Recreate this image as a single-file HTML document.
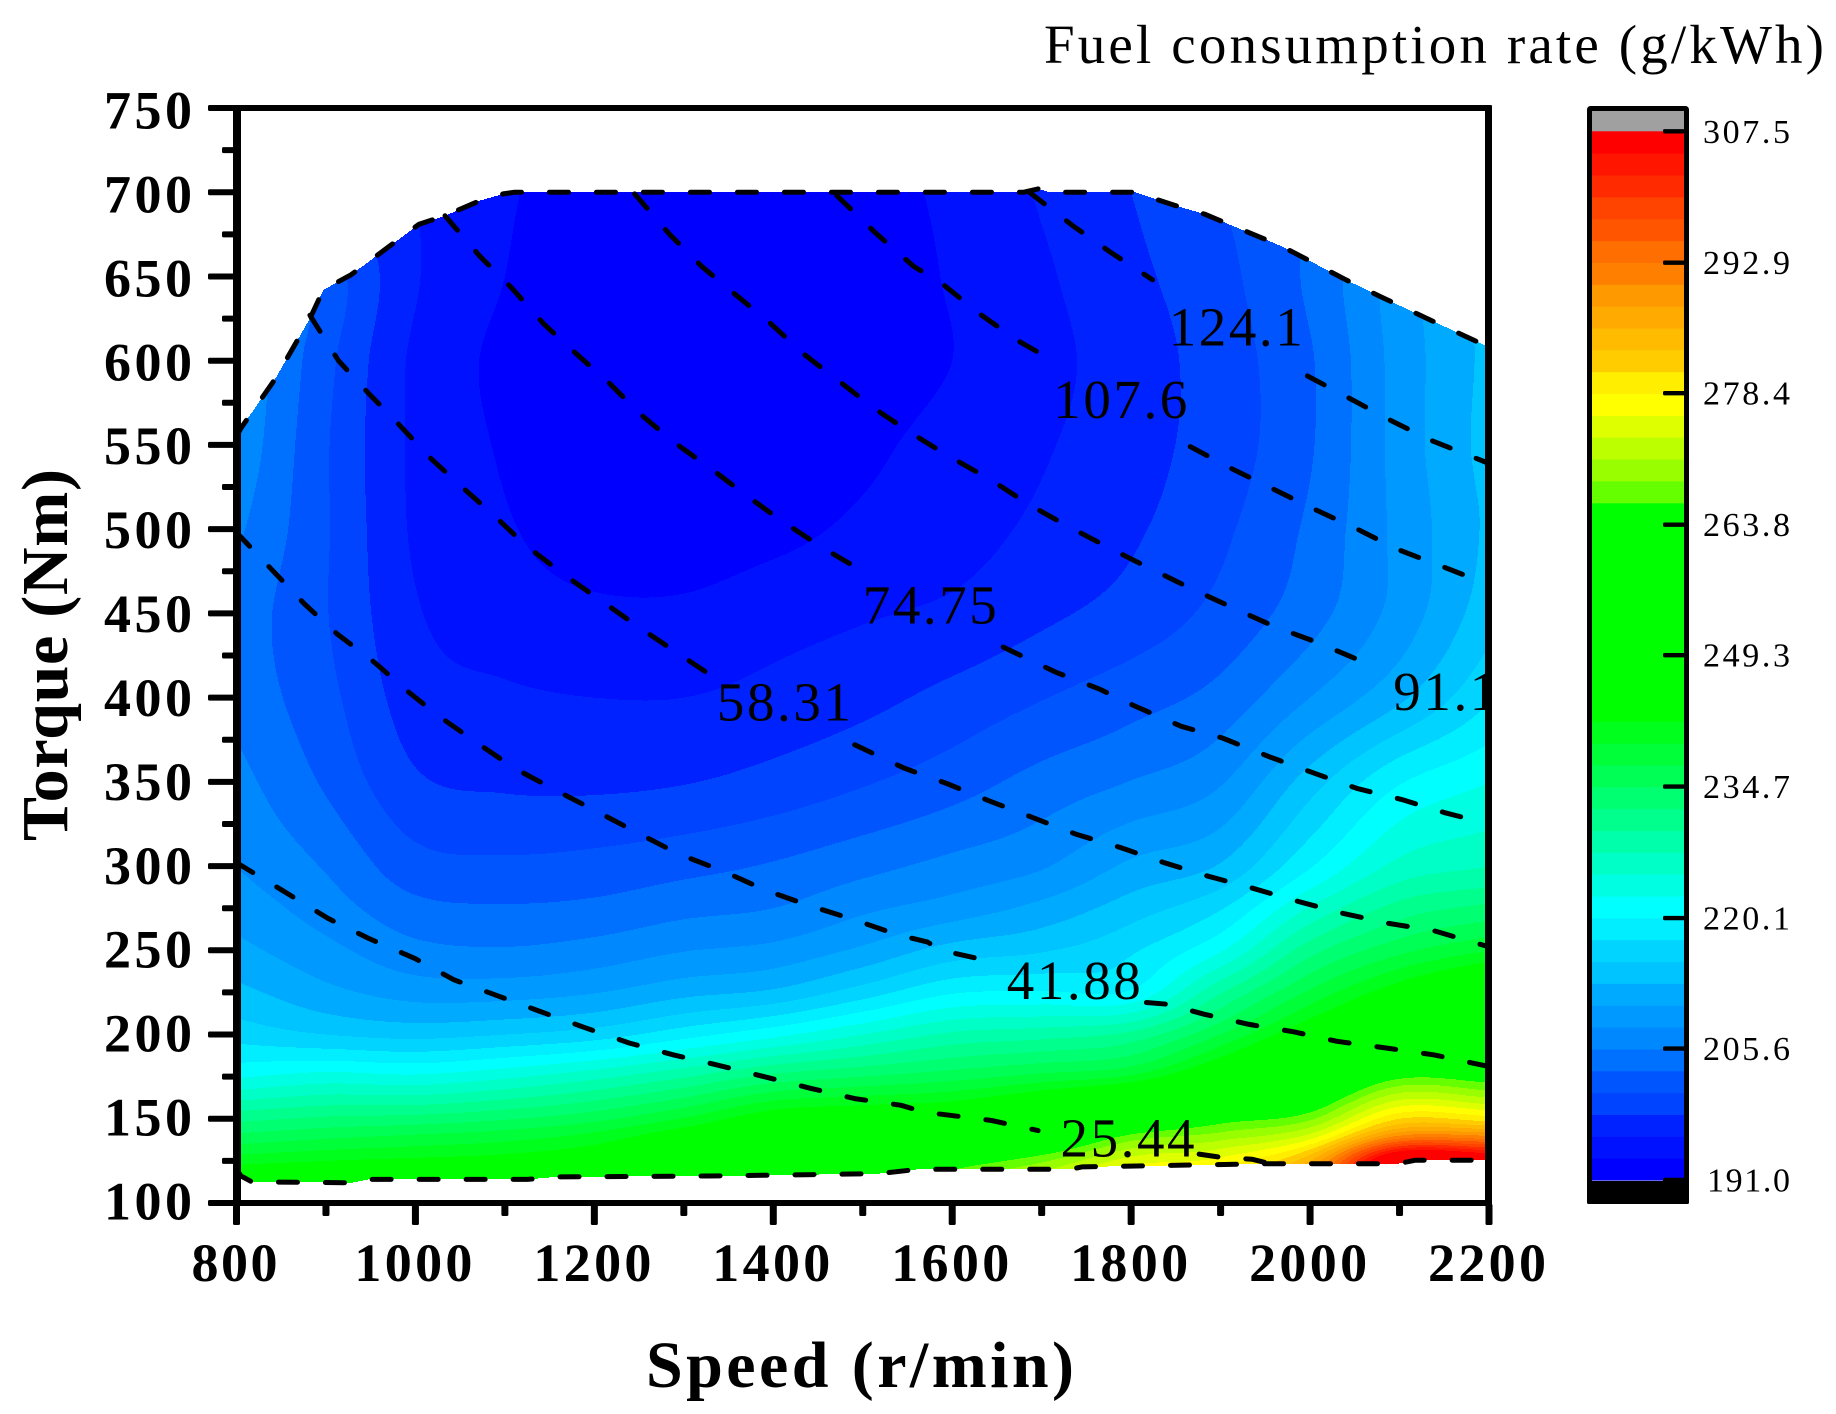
<!DOCTYPE html>
<html lang="en">
<head>
<meta charset="utf-8">
<title>Fuel consumption rate contour map</title>
<style>
html,body{margin:0;padding:0;background:#fff;}
svg{display:block;font-family:"Liberation Serif",serif;}
</style>
</head>
<body>
<svg id="chart" xmlns="http://www.w3.org/2000/svg" width="1836" height="1414" viewBox="0 0 1836 1414">
<rect x="0" y="0" width="1836" height="1414" fill="#fff"/>
<defs><clipPath id="plot-clip"><rect x="237" y="108" width="1252" height="1095"/></clipPath></defs>
<g id="field" shape-rendering="crispEdges"></g>
<g id="isolines" clip-path="url(#plot-clip)" fill="none" stroke="#000" stroke-width="5" stroke-dasharray="19 28" stroke-linecap="round" stroke-linejoin="round"></g>
<g id="isolabels" clip-path="url(#plot-clip)" font-size="55" fill="#000"></g>
<g id="axes"></g>
<g id="colorbar"></g>
<text x="646" y="1387" font-size="66" font-weight="bold" textLength="428" lengthAdjust="spacing">Speed (r/min)</text>
<text transform="translate(67,841) rotate(-90)" x="0" y="0" font-size="66" font-weight="bold" textLength="372" lengthAdjust="spacing">Torque (Nm)</text>
<text x="1044" y="63" font-size="55" textLength="780" lengthAdjust="spacing">Fuel consumption rate (g/kWh)</text>
</svg>
<script>
/* ---------- data: axis ticks ---------- */
var xTicks = [800, 1000, 1200, 1400, 1600, 1800, 2000, 2200];
var xMinorTicks = [900, 1100, 1300, 1500, 1700, 1900, 2100];
var yTicks = [100, 150, 200, 250, 300, 350, 400, 450, 500, 550, 600, 650, 700, 750];
var yMinorTicks = [125, 175, 225, 275, 325, 375, 425, 475, 525, 575, 625, 675, 725];

/* ---------- data: colour scale ---------- */
var colorbarTicks = [191.0, 205.6, 220.1, 234.7, 249.3, 263.8, 278.4, 292.9, 307.5];
var colorbarLabels = ["191.0", "205.6", "220.1", "234.7", "249.3", "263.8", "278.4", "292.9", "307.5"];
var bandColors = ["#0000ff","#0011ff","#0022ff","#0044ff","#0055ff","#0070ff","#0088ff","#0099ff","#00aaff","#00c4ff","#00d4ff","#00eeff",
 "#00ffff","#00ffe2","#00ffc6","#00ffaa","#00ff8d","#00ff71","#00ff55","#00ff38","#00ff1c","#00ff00","#00ff00","#00ff00","#00ff00","#00ff00","#00ff00","#00ff00","#00ff00","#00ff00","#00ff00",
 "#66ff00","#99ff00","#bbff00","#ddff00","#ffff00","#ffee00","#ffcc00","#ffbb00","#ffaa00","#ff9900","#ff8000","#ff6e00","#ff5500","#ff4400","#ff2a00","#ff1500","#ff0000"];

/* ---------- data: measured grid, fuel rate in colour-band levels (1 level = 2.427 g/kWh above 191) ---------- */
var gridSpeeds = [800, 900, 1000, 1100, 1200, 1300, 1400, 1500, 1600, 1700, 1800, 1900, 2000, 2100, 2200];
var gridTorques = [100, 125, 140, 150, 175, 200, 225, 250, 275, 300, 350, 400, 450, 500, 550, 600, 650, 700];
var rate100 = [25, 25, 26, 26, 27, 28, 29, 31, 34, 36, 39, 40, 44, 55, 54];
var rate125 = [20.6, 21, 21.3, 21.6, 22.3, 23.5, 25, 28, 30, 31.8, 34.5, 35.4, 39, 50, 49];
var rate140 = [18.2, 18.7, 19.1, 19.5, 20.3, 21.8, 23, 24.5, 25.8, 27.7, 31.2, 32.4, 34.3, 41, 41];
var rate150 = [16.7, 17.2, 17.4, 17.9, 18.7, 20.1, 21.9, 22.5, 23, 24.9, 27.9, 30.3, 31.8, 37, 36.5];
var rate175 = [12.9, 13.4, 13.2, 13.8, 14.7, 15.9, 17.3, 18, 18.6, 19.35, 20.2, 23.2, 26.8, 30.7, 30.3];
var rate200 = [10.6, 10, 9.7, 10, 10.5, 11.6, 12.7, 14, 15.2, 15.6, 16.3, 19, 22.3, 25, 27];
var rate225 = [9.3, 8.3, 7.6, 7.6, 7.95, 8.7, 9.2, 10.5, 11.9, 12.1, 12.15, 15.9, 19.2, 21.8, 24];
var rate250 = [8.3, 7.3, 6.3, 6.1, 6.4, 6.95, 7.3, 8.2, 9.4, 9.9, 10.85, 12.9, 16.6, 18.7, 20];
var rate275 = [7.6, 6.5, 5.3, 5.1, 5.25, 5.7, 6, 6.8, 7.45, 8.3, 9.5, 10.9, 14.1, 16.4, 17.3];
var rate300 = [7, 5.9, 4.4, 4.2, 4.35, 4.7, 5.1, 5.7, 6.3, 6.9, 8.2, 9.1, 11.9, 14.3, 15];
var rate350 = [6.35, 4.85, 3.15, 2.85, 2.8, 2.95, 3.35, 3.9, 4.55, 5.36, 6.03, 6.9, 9.5, 11.9, 13];
var rate400 = [5.7, 4.3, 2.5, 2.15, 2, 2, 2.3, 2.7, 3.3, 3.95, 4.6, 5.35, 7, 8.8, 10.9];
var rate450 = [5.6, 4.05, 2.1, 1.5, 1.2, 1.2, 1.6, 1.9, 2.2, 2.8, 3.4, 4.3, 5.6, 7.4, 9.6];
var rate500 = [6.2, 4.1, 1.85, 1.1, 0.5, 0.4, 0.7, 1.2, 1.6, 2.2, 2.85, 3.8, 5.2, 7.3, 9.2];
var rate550 = [6.8, 4.1, 1.8, 0.9, 0.4, 0.2, 0.2, 0.75, 1.4, 1.9, 2.6, 3.5, 4.9, 7.4, 9.4];
var rate600 = [7, 4.3, 1.8, 0.8, 0.4, 0.2, 0.1, 0.3, 1, 1.7, 2.5, 3.5, 4.9, 7.4, 9.3];
var rate650 = [7, 4.6, 2.1, 1, 0.6, 0.3, 0.2, 0.4, 1.1, 1.85, 2.75, 3.7, 5.2, 7.5, 9.3];
var rate700 = [4, 3, 2, 1.1, 0.7, 0.5, 0.5, 0.7, 1.2, 2.1, 3, 4, 5, 7, 9];
var rateRows = [rate100, rate125, rate140, rate150, rate175, rate200, rate225, rate250, rate275, rate300, rate350, rate400, rate450, rate500, rate550, rate600, rate650, rate700];

/* ---------- data: operating envelope ---------- */
var topSpeeds = [800, 805, 843, 882, 897, 928, 961, 1004, 1033, 1072, 1098, 1111, 1680, 1696, 1709, 1804, 1850, 1882, 1909, 1968, 2040, 2079, 2131, 2200];
var topTorques = [555, 560, 589, 625, 642, 651, 664, 681, 686, 695, 699, 700, 700, 702, 700, 700, 692, 687, 681, 668, 648, 638, 625, 608];
var bottomSpeeds = [800, 805, 817, 928, 948, 1125, 1157, 1327, 1517, 1562, 1732, 1745, 1954, 2098, 2118, 2200];
var bottomTorques = [120, 116, 112.6, 112, 114, 114, 115.5, 116, 117.4, 120, 120, 121.4, 123.3, 123.3, 125.4, 125.4];

/* ---------- data: dashed contour lines (null = gap under the label) ---------- */
var line25Speeds = [800, 850, 902, 948, 1000, 1043, 1092, 1138, 1190, 1239, 1288, 1337, 1390, 1442, 1491, 1543, 1568, 1644, 1696, null, 1876, 1902, 1935, 1954];
var line25Torques = [302, 286, 269, 257, 245, 232.5, 223, 214, 204, 195, 188, 182, 175, 168, 162, 158, 154, 149, 143, null, 129, 127, 126, 123.5];
var line41Speeds = [800, 843, 876, 912, 954, 993, 1026, 1072, 1111, 1157, 1206, 1249, 1295, 1344, 1390, 1439, 1488, 1540, 1572, 1588, 1634, null, 1817, 1840, 1882, 1932, 1981, 2030, 2085, 2138, 2200];
var line41Torques = [498, 474, 455.6, 438, 421, 403, 389, 372, 358, 345, 331.5, 319.5, 307, 297, 286, 276.7, 268.6, 259, 255, 250, 244.5, null, 219, 218, 212, 206, 201.7, 196, 192, 188, 181];
var line58Speeds = [882, 914, 947, 980, 1016, 1052, 1088, 1124, 1166, 1209, 1252, 1294, 1334, null, 1491, 1547, 1594, 1640, 1689, 1738, 1788, 1837, 1886, 1935, 1987, 2036, 2088, 2138, 2200];
var line58Torques = [627, 600, 581, 563, 542.6, 525, 508, 490, 473, 457, 441, 426, 412, null, 372, 358, 349, 339, 329, 319, 311, 302, 294, 287, 279, 272, 266, 261.7, 252];
var line74Speeds = [1033, 1072, 1108, 1144, 1180, 1216, 1252, 1288, 1330, 1370, 1409, 1455, 1498, null, 1657, 1716, 1765, 1804, 1856, 1902, 1954, 2000, 2053, 2102, 2151, 2200];
var line74Torques = [686, 662, 643, 621.5, 604, 587, 568, 552, 536, 520, 505, 489, 475.6, null, 430, 415, 405, 395, 383, 376, 365, 356, 346, 339.6, 331.6, 325];
var line91Speeds = [1245, 1284, 1320, 1356, 1395, 1434, 1473, 1512, 1554, 1594, 1644, 1686, 1732, 1775, 1820, 1866, 1915, 1961, 2007, 2056, 2070];
var line91Torques = [699, 675, 656, 640, 623, 604, 588, 572, 557, 544, 529, 514.5, 501, 489, 477, 465, 453, 442, 433, 422, 418];
var line107Speeds = [1471, 1514, 1557, 1588, 1630, 1673, 1716, null, 1866, 1912, 1958, 2004, 2053, 2098, 2144, 2200];
var line107Torques = [698, 676, 656, 646, 628, 612, 599, null, 549, 536, 524, 512, 500, 488, 478.6, 467];
var line124Speeds = [1686, 1735, 1778, 1824, null, 1997, 2043, 2092, 2134, 2200];
var line124Torques = [700, 680, 664, 648, null, 591, 578, 564, 553, 539];

/* ---------- data: contour labels ---------- */
var isoLabelTexts = ["124.1", "107.6", "74.75", "58.31", "91.1", "41.88", "25.44"];
var isoLabelSpeeds = [1842, 1713, 1500, 1337, 2093, 1661, 1721];
var isoLabelTorques = [609, 566, 444, 386.4, 392.7, 221, 127.6];

/* ---------- axis functions ---------- */
var plotLeft = 236.5, plotRight = 1489, plotTop = 108, plotBottom = 1203;
function xScale(s){ return plotLeft + (s - 800) * (plotRight - plotLeft) / 1400; }
function yScale(t){ return plotBottom - (t - 100) * (plotBottom - plotTop) / 650; }
function xInvert(x){ return 800 + (x - plotLeft) * 1400 / (plotRight - plotLeft); }
function yInvert(y){ return 100 + (plotBottom - y) * 650 / (plotBottom - plotTop); }
var barBottomY = 1180, barTopY = 131.3;
function barScale(v){ return barBottomY - (v - 191) * (barBottomY - barTopY) / (307.5 - 191); }

var NS = "http://www.w3.org/2000/svg";
function make(tag, attrs, parent){
  var n = document.createElementNS(NS, tag);
  for (var k in attrs) n.setAttribute(k, attrs[k]);
  parent.appendChild(n);
  return n;
}
function lerpAt(xs, ys, x){
  if (x <= xs[0]) return ys[0];
  for (var i = 1; i < xs.length; i++) if (x <= xs[i]) {
    return ys[i-1] + (ys[i] - ys[i-1]) * (x - xs[i-1]) / (xs[i] - xs[i-1]);
  }
  return ys[ys.length - 1];
}
function smoothAt(xs, ys, x){
  var n = xs.length, i = 0;
  while (i < n - 2 && x > xs[i+1]) i++;
  var h = xs[i+1] - xs[i], u = Math.max(0, Math.min(1, (x - xs[i]) / h));
  var m0 = i > 0 ? (ys[i+1] - ys[i-1]) / (xs[i+1] - xs[i-1]) : (ys[i+1] - ys[i]) / h;
  var m1 = i < n - 2 ? (ys[i+2] - ys[i]) / (xs[i+2] - xs[i]) : (ys[i+1] - ys[i]) / h;
  var u2 = u * u, u3 = u2 * u;
  return (2*u3 - 3*u2 + 1) * ys[i] + (u3 - 2*u2 + u) * h * m0 + (-2*u3 + 3*u2) * ys[i+1] + (u3 - u2) * h * m1;
}

/* ---------- filled contour bands ---------- */
(function(){
  var field = document.getElementById("field");
  var pieces = bandColors.map(function(){ return []; });
  var x0 = 237, x1 = 1486;
  var tops = [], bots = [], cols = [];
  for (var x = x0; x < x1; x++) {
    var s = xInvert(x + 0.5);
    tops.push(yScale(lerpAt(topSpeeds, topTorques, s)));
    bots.push(yScale(lerpAt(bottomSpeeds, bottomTorques, s)));
    cols.push(rateRows.map(function(row){ return smoothAt(gridSpeeds, row, s); }));
  }
  for (var y = 150; y < 1203; y++) {
    var t = yInvert(y + 0.5);
    var runBand = -1, runStart = 0;
    for (var x = x0; x <= x1; x++) {
      var band = -1;
      if (x < x1) {
        var i = x - x0;
        if (y + 0.5 >= tops[i] && y + 0.5 <= bots[i]) {
          band = Math.floor(smoothAt(gridTorques, cols[i], t));
          band = Math.max(0, Math.min(bandColors.length - 1, band));
        }
      }
      if (band !== runBand) {
        if (runBand >= 0) pieces[runBand].push("M" + runStart + " " + y + "h" + (x - runStart) + "v1h" + (runStart - x) + "z");
        runBand = band; runStart = x;
      }
    }
  }
  pieces.forEach(function(p, idx){
    if (!p.length) return;
    var path = make("path", {d: p.join(""), fill: bandColors[idx]}, field);
    
    
  });
})();

/* ---------- dashed contour lines ---------- */
(function(){
  var group = document.getElementById("isolines");
  function addLine(speeds, torques, name){
    var d = "", pen = false;
    for (var i = 0; i < speeds.length; i++) {
      if (speeds[i] === null) { pen = false; continue; }
      d += (pen ? "L" : "M") + xScale(speeds[i]).toFixed(1) + " " + yScale(torques[i]).toFixed(1);
      pen = true;
    }
    var p = make("path", {d: d}, group);
    
    
  }
  addLine(topSpeeds, topTorques, 'envelope-top-line');
  addLine(bottomSpeeds, bottomTorques, 'envelope-bottom-line');
  addLine(line25Speeds, line25Torques, 'contour-line-25-44');
  addLine(line41Speeds, line41Torques, 'contour-line-41-88');
  addLine(line58Speeds, line58Torques, 'contour-line-58-31');
  addLine(line74Speeds, line74Torques, 'contour-line-74-75');
  addLine(line91Speeds, line91Torques, 'contour-line-91-1');
  addLine(line107Speeds, line107Torques, 'contour-line-107-6');
  addLine(line124Speeds, line124Torques, 'contour-line-124-1');
})();

/* ---------- contour labels ---------- */
(function(){
  var group = document.getElementById("isolabels");
  isoLabelTexts.forEach(function(txt, i){
    var len = txt.length === 5 ? 134 : 104;
    var n = make("text", {x: xScale(isoLabelSpeeds[i]).toFixed(1), y: yScale(isoLabelTorques[i]).toFixed(1), textLength: len, lengthAdjust: "spacing"}, group);
    n.textContent = txt;
    
    
  });
})();

/* ---------- axes ---------- */
(function(){
  var g = document.getElementById("axes");
  function bar(x, y, w, h, name){
    var r = make("rect", {x: x, y: y, width: w, height: h, rx: 1.5, fill: "#000"}, g);
    
    
  }
  bar(233, 105, 8, 1101, 'y-axis-line');
  bar(233, 105, 1259, 6, 'top-axis-line');
  bar(233, 1200, 1259, 6, 'x-axis-line');
  bar(1485, 105, 7, 1101, 'right-axis-line');
  yTicks.forEach(function(v){
    bar(208, yScale(v) - 3, 27, 6, 'y-major-tick');
    var baseline = 128.5 + (750 - v) * (1219.5 - 128.5) / 650;
    var n = make("text", {x: 104, y: baseline.toFixed(1), "font-size": 54, "font-weight": "bold", textLength: 88, lengthAdjust: "spacing"}, g);
    n.textContent = String(v);
    
    
  });
  yMinorTicks.forEach(function(v){
    bar(222, yScale(v) - 3, 13, 6, 'y-minor-tick');
  });
  xTicks.forEach(function(v){
    bar(xScale(v) - 3.5, 1204, 7, 21, 'x-major-tick');
    var label = String(v), len = label.length === 4 ? 118 : 86;
    var n = make("text", {x: (xScale(v) - 2 - len / 2).toFixed(1), y: 1281, "font-size": 54, "font-weight": "bold", textLength: len, lengthAdjust: "spacing"}, g);
    n.textContent = label;
    
    
  });
  xMinorTicks.forEach(function(v){
    bar(xScale(v) - 3.5, 1204, 7, 12, 'x-minor-tick');
  });
})();

/* ---------- colour bar ---------- */
(function(){
  var g = document.getElementById("colorbar");
  var step = (307.5 - 191) / bandColors.length;
  var over = make("rect", {x: 1589, y: 108, width: 98, height: 24, fill: "#a0a0a0"}, g);
  
  
  bandColors.forEach(function(c, i){
    var yTop = barScale(191 + (i + 1) * step), yBot = barScale(191 + i * step);
    var r = make("rect", {x: 1589, y: yTop.toFixed(1), width: 98, height: (yBot - yTop + 0.6).toFixed(1), fill: c}, g);
    
    
  });
  var under = make("rect", {x: 1587, y: 1181, width: 102, height: 23, rx: 1.5, fill: "#000"}, g);
  
  
  var frame = make("rect", {x: 1589.5, y: 108.5, width: 97, height: 1090, rx: 1, fill: "none", stroke: "#000", "stroke-width": 5}, g);
  
  
  colorbarTicks.forEach(function(v, i){
    var y = barScale(v);
    var t = make("rect", {x: 1663, y: (y - 2.2).toFixed(1), width: 23, height: 4.4, rx: 1.5, fill: "#000"}, g);
    
    
    var first = i === 0;
    var n = make("text", {x: first ? 1707 : 1703, y: (y + 11.5).toFixed(1), "font-size": 34, textLength: first ? 83 : 87, lengthAdjust: "spacing"}, g);
    n.textContent = colorbarLabels[i];
    
    
  });
})();
</script>
</body>
</html>
